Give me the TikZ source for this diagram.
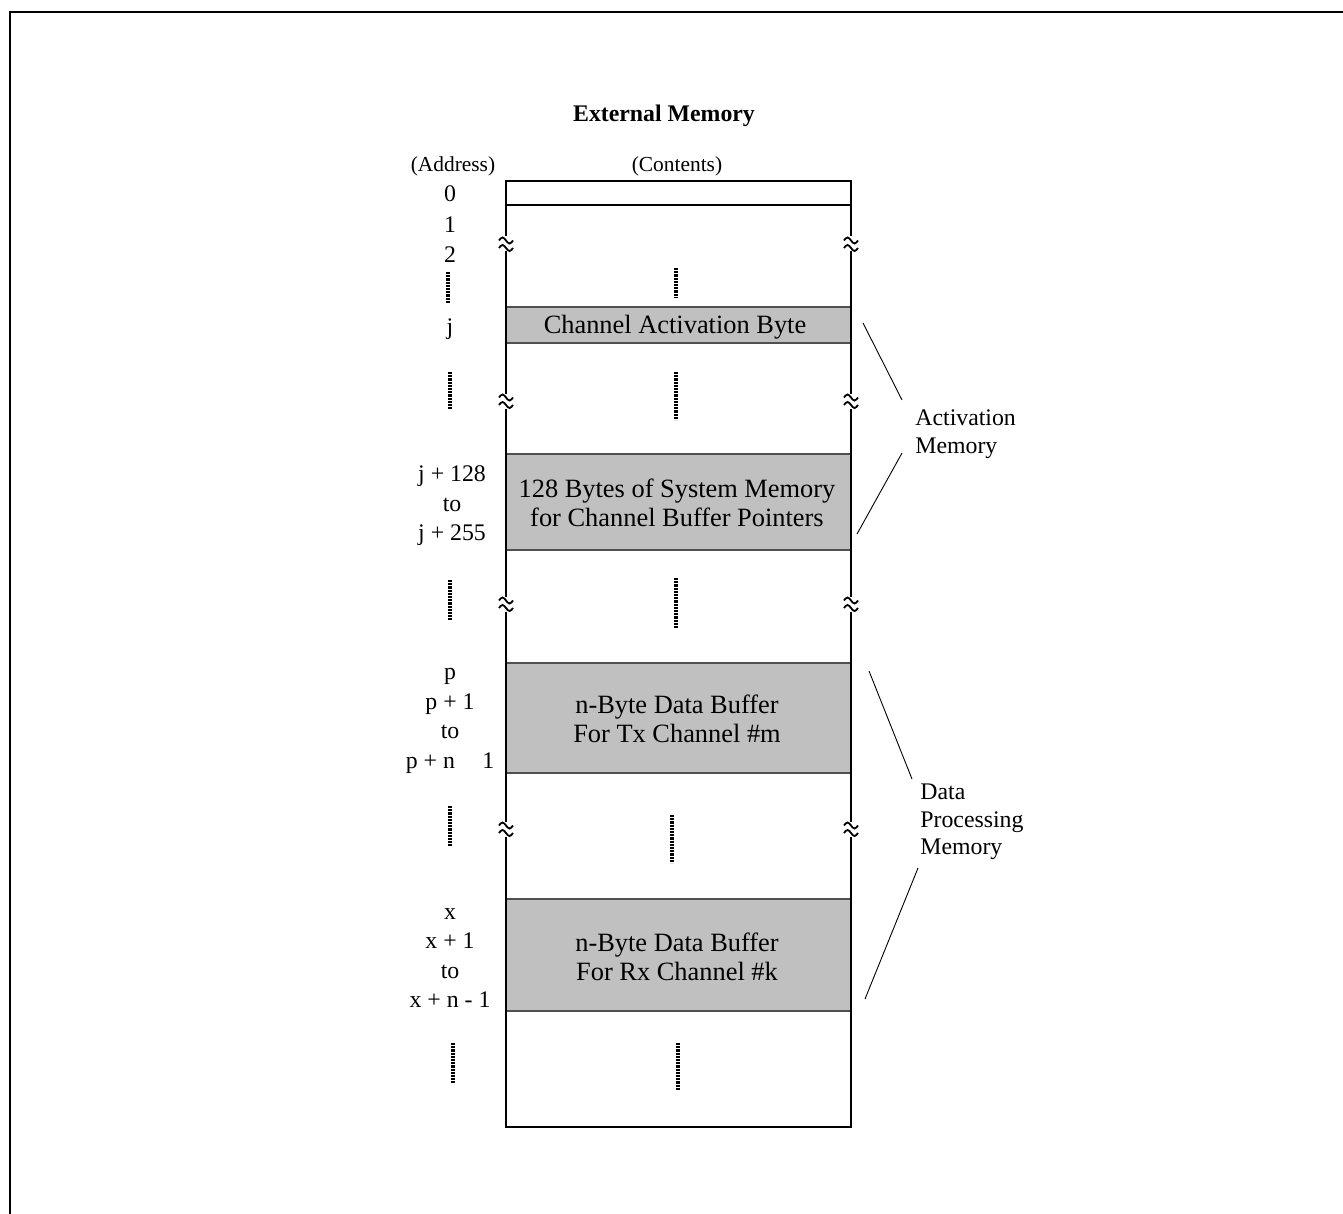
\documentclass[tikz,border=0pt]{standalone}
\usepackage{fontspec}
\setmainfont{Liberation Serif}
\definecolor{cellgray}{RGB}{192,192,192}
\definecolor{cellborder}{RGB}{80,80,80}
\begin{document}
\begin{tikzpicture}[x=0.5pt,y=-0.5pt,
  every node/.style={inner sep=0pt},
  title/.style={font=\fontsize{11.9}{14}\selectfont\bfseries},
  colhead/.style={font=\fontsize{10.7}{13}\selectfont},
  addr/.style={font=\fontsize{11.9}{14.8}\selectfont, align=center},
  cont/.style={font=\fontsize{13.2}{14.5}\selectfont, align=center},
  sidelbl/.style={font=\fontsize{11.9}{13.8}\selectfont, align=left, anchor=west},
  memside/.style={line width=1.4pt},
  memedge/.style={line width=1.2pt},
  sepline/.style={line width=0.6pt},
  cell/.style={fill=cellgray, draw=cellborder, line width=0.6pt},
  dotline/.style={line width=1.6pt, dash pattern=on 1.1pt off 0.5pt},
  leader/.style={line width=0.45pt},
  brk/.pic={
    \draw[line width=0.9pt] (-7,-3.5) sin (-3.5,-6.5) cos (0,-3.5) sin (3.5,-0.5) cos (7,-3.5);
    \draw[line width=0.9pt] (-7,4) sin (-3.5,1) cos (0,4) sin (3.5,7) cos (7,4);
  }
]
\useasboundingbox (0,0) rectangle (1343,1214);
% outer frame
\draw[line width=0.6pt] (1343,12) -- (10,12) -- (10,1214);

% title and column heads
\node[title] (ttl) at (664,116) {External Memory};
\node[colhead,anchor=base] (haddr) at (453,171.5) {(Address)};
\node[colhead,anchor=base] (hcont) at (677,171.5) {(Contents)};

% shaded cells
\path[cell] (506,307) rectangle (851,343);
\path[cell] (506,454) rectangle (851,550);
\path[cell] (506,663) rectangle (851,773);
\path[cell] (506,899) rectangle (851,1011);
\node[cont] (c1) at (675,327) {Channel Activation Byte};
\node[cont] (c2) at (677,503) {128 Bytes of System Memory\\for Channel Buffer Pointers};
\node[cont] (c3) at (677,719) {n-Byte Data Buffer\\For Tx Channel \#m};
\node[cont] (c4) at (677,957) {n-Byte Data Buffer\\For Rx Channel \#k};

% first row separator
\draw[sepline] (506,205) -- (851,205);

% memory column outline with breaks
\draw[memedge] (506,181) -- (851,181);
\draw[memedge] (506,1127) -- (851,1127);
\foreach \xx in {506,851}{
  \draw[memside] (\xx,180.4) -- (\xx,236.5);
  \draw[memside] (\xx,251.5) -- (\xx,393.5);
  \draw[memside] (\xx,408.5) -- (\xx,596.5);
  \draw[memside] (\xx,611.5) -- (\xx,821.5);
  \draw[memside] (\xx,836.5) -- (\xx,1127.6);
  \pic at (\xx,244) {brk};
  \pic at (\xx,401) {brk};
  \pic at (\xx,604) {brk};
  \pic at (\xx,829) {brk};
}

% dotted continuation marks (contents)
\draw[dotline] (676,268) -- (676,298);
\draw[dotline] (676,372) -- (676,420);
\draw[dotline] (676,578) -- (676,628);
\draw[dotline] (672,815) -- (672,863);
\draw[dotline] (678,1043) -- (678,1090);
% dotted continuation marks (addresses)
\draw[dotline] (448,272) -- (448,303);
\draw[dotline] (450,372) -- (450,410);
\draw[dotline] (450,580) -- (450,620);
\draw[dotline] (450,806) -- (450,846);
\draw[dotline] (453,1043) -- (453,1083);

% addresses
\node[addr] (a0) at (450,194) {0};
\node[addr] (a1) at (450,225) {1};
\node[addr] (a2) at (450,255) {2};
\node[addr,anchor=base] (aj) at (450,334) {j};
\node[addr] (aj128) at (452,506) {j + 128\\to\\j + 255};
\node[addr] (ap) at (450,721) {p\\p + 1\\to\\p + n\hspace{1.15em}1};
\node[addr] (ax) at (450,958) {x\\x + 1\\to\\x + n - 1};

% side labels
\node[sidelbl] (act) at (915,434) {Activation\\Memory};
\node[sidelbl] (dpm) at (920,822) {Data\\Processing\\Memory};

% leader lines
\coordinate (l1a) at (863,323);
\coordinate (l1b) at (902,400);
\coordinate (l2a) at (902,453);
\coordinate (l2b) at (857,534);
\coordinate (l3a) at (869,671);
\coordinate (l3b) at (912,779);
\coordinate (l4a) at (918,868);
\coordinate (l4b) at (865,999);
\draw[leader] (l1a) -- (l1b);
\draw[leader] (l2a) -- (l2b);
\draw[leader] (l3a) -- (l3b);
\draw[leader] (l4a) -- (l4b);
\end{tikzpicture}
\end{document}
